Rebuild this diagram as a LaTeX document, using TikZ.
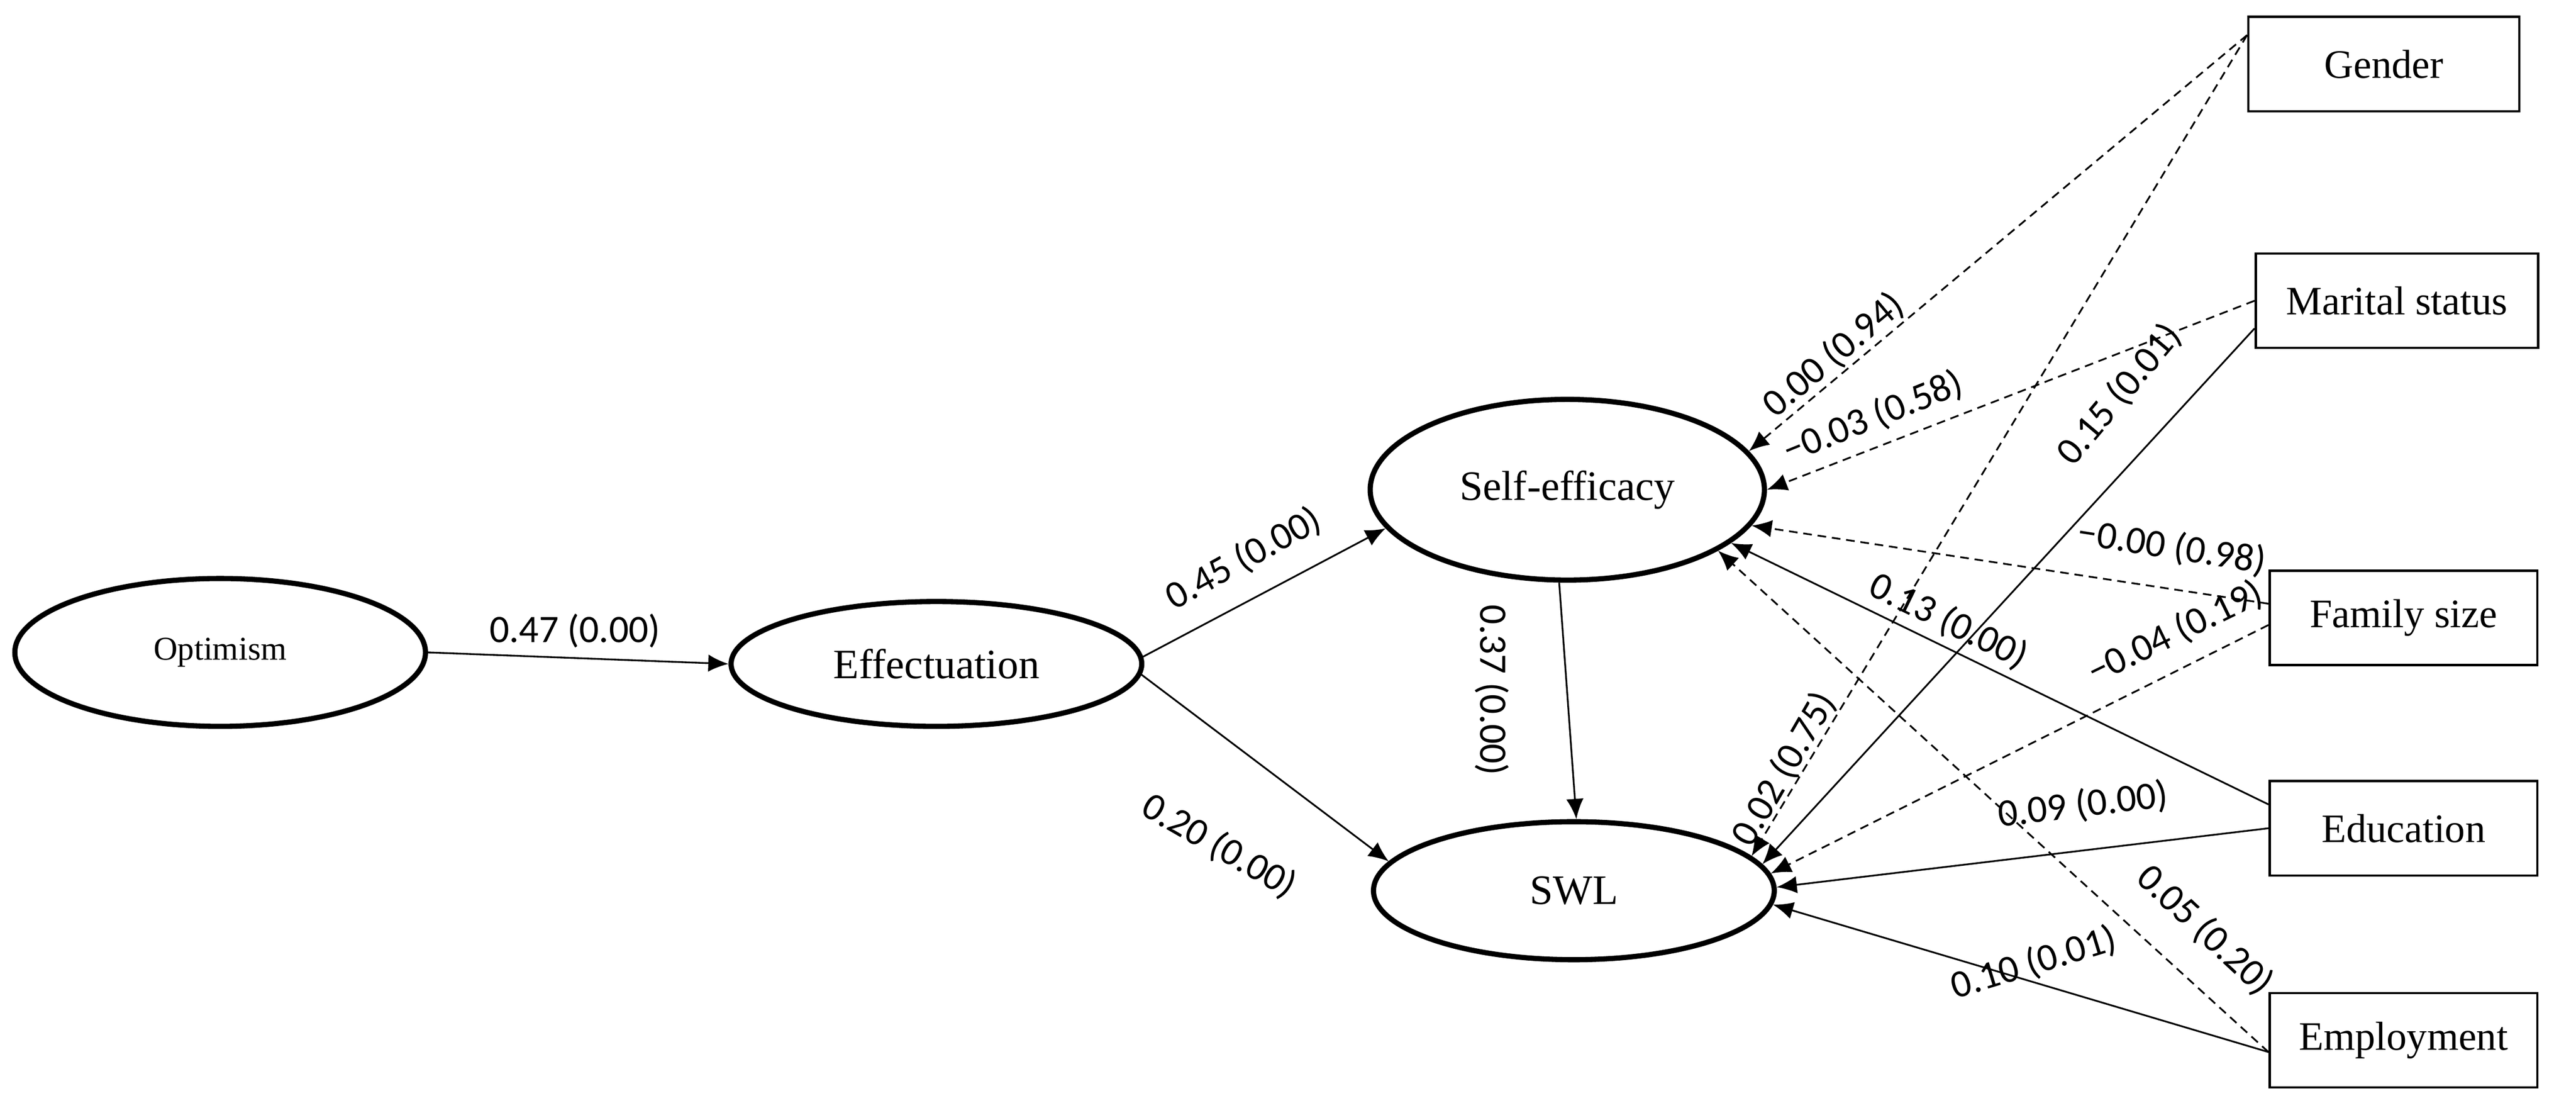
\documentclass[tikz,border=0pt]{standalone}
\usepackage{fontspec}
\setmainfont{Liberation Serif}
\newfontfamily\lab{Carlito}
\usetikzlibrary{shapes.geometric,arrows.meta}
\begin{document}
\begin{tikzpicture}[x=0.02cm,y=-0.02cm,
 lat/.style={ellipse,draw,line width=1.8pt,font=\fontsize{14.5}{16}\selectfont},
 obs/.style={rectangle,draw,line width=0.8pt,minimum width=3.3cm,minimum height=1.15cm,font=\fontsize{14}{16}\selectfont},
 p/.style={-{Latex[length=7pt,width=6pt]},line width=0.6pt},
 d/.style={p,densely dashed},
 lb/.style={font=\lab\fontsize{13.5}{15}\selectfont,inner sep=1pt}]
\useasboundingbox (0,0) rectangle (1568,674);
\node[lat,minimum width=5cm,minimum height=1.8cm] (opt) at (134,397) {\fontsize{11.5}{13}\selectfont Optimism};
\node[lat,minimum width=5cm,minimum height=1.52cm] (eff) at (570,404) {Effectuation};
\node[lat,minimum width=4.8cm,minimum height=2.2cm] (se) at (954,298) {Self-efficacy};
\node[lat,minimum width=4.88cm,minimum height=1.68cm] (swl) at (958,542) {SWL};
\node[obs] (gen) at (1451,39) {Gender};
\node[obs,minimum width=3.44cm] (mar) at (1459,183) {Marital status};
\node[obs,minimum width=3.26cm] (fam) at (1463,376) {Family size};
\node[obs,minimum width=3.26cm] (edu) at (1463,504) {Education};
\node[obs,minimum width=3.26cm] (emp) at (1463,633) {Employment};

\draw[p] (opt.east) -- (eff.west);
\draw[p] (eff.2) -- (se.192);
\draw[p] (eff.-3) -- (swl.171);
\draw[p] (se.265) -- (swl.88);
\draw[d] (gen.168) -- (se.12);
\draw[d] (gen.168) -- (swl.11);
\draw[d] (mar.west) -- (se.0);
\draw[p] (mar.191) -- (swl.8);
\draw[d] (fam.174) -- (se.-11);
\draw[d] (fam.183) -- (swl.5);
\draw[p] (edu.170) -- (se.-18);
\draw[p] (edu.180) -- (swl.1);
\draw[d] (emp.185) -- (se.-22);
\draw[p] (emp.185) -- (swl.-4);

\node[lb] (l1) at (350,384) {0.47 (0.00)};
\node[lb,rotate=29] (l2) at (757,340) {0.45 (0.00)};
\node[lb,rotate=-30] (l3) at (742,515) {0.20 (0.00)};
\node[lb,rotate=-90] (l4) at (908,420) {0.37 (0.00)};
\node[lb,rotate=40] (l5) at (1116,216) {0.00 (0.94)};
\node[lb,rotate=60] (l6) at (1086,468) {0.02 (0.75)};
\node[lb,rotate=22] (l7) at (1140,254) {−0.03 (0.58)};
\node[lb,rotate=50] (l8) at (1290,240) {0.15 (0.01)};
\node[lb,rotate=-9] (l9) at (1322,333) {−0.00 (0.98)};
\node[lb,rotate=26] (l10) at (1324,385) {−0.04 (0.19)};
\node[lb,rotate=-26] (l11) at (1186,378) {0.13 (0.00)};
\node[lb,rotate=7] (l12) at (1268,490) {0.09 (0.00)};
\node[lb,rotate=-43] (l13) at (1342,566) {0.05 (0.20)};
\node[lb,rotate=17] (l14) at (1238,586) {0.10 (0.01)};
\end{tikzpicture}
\end{document}
